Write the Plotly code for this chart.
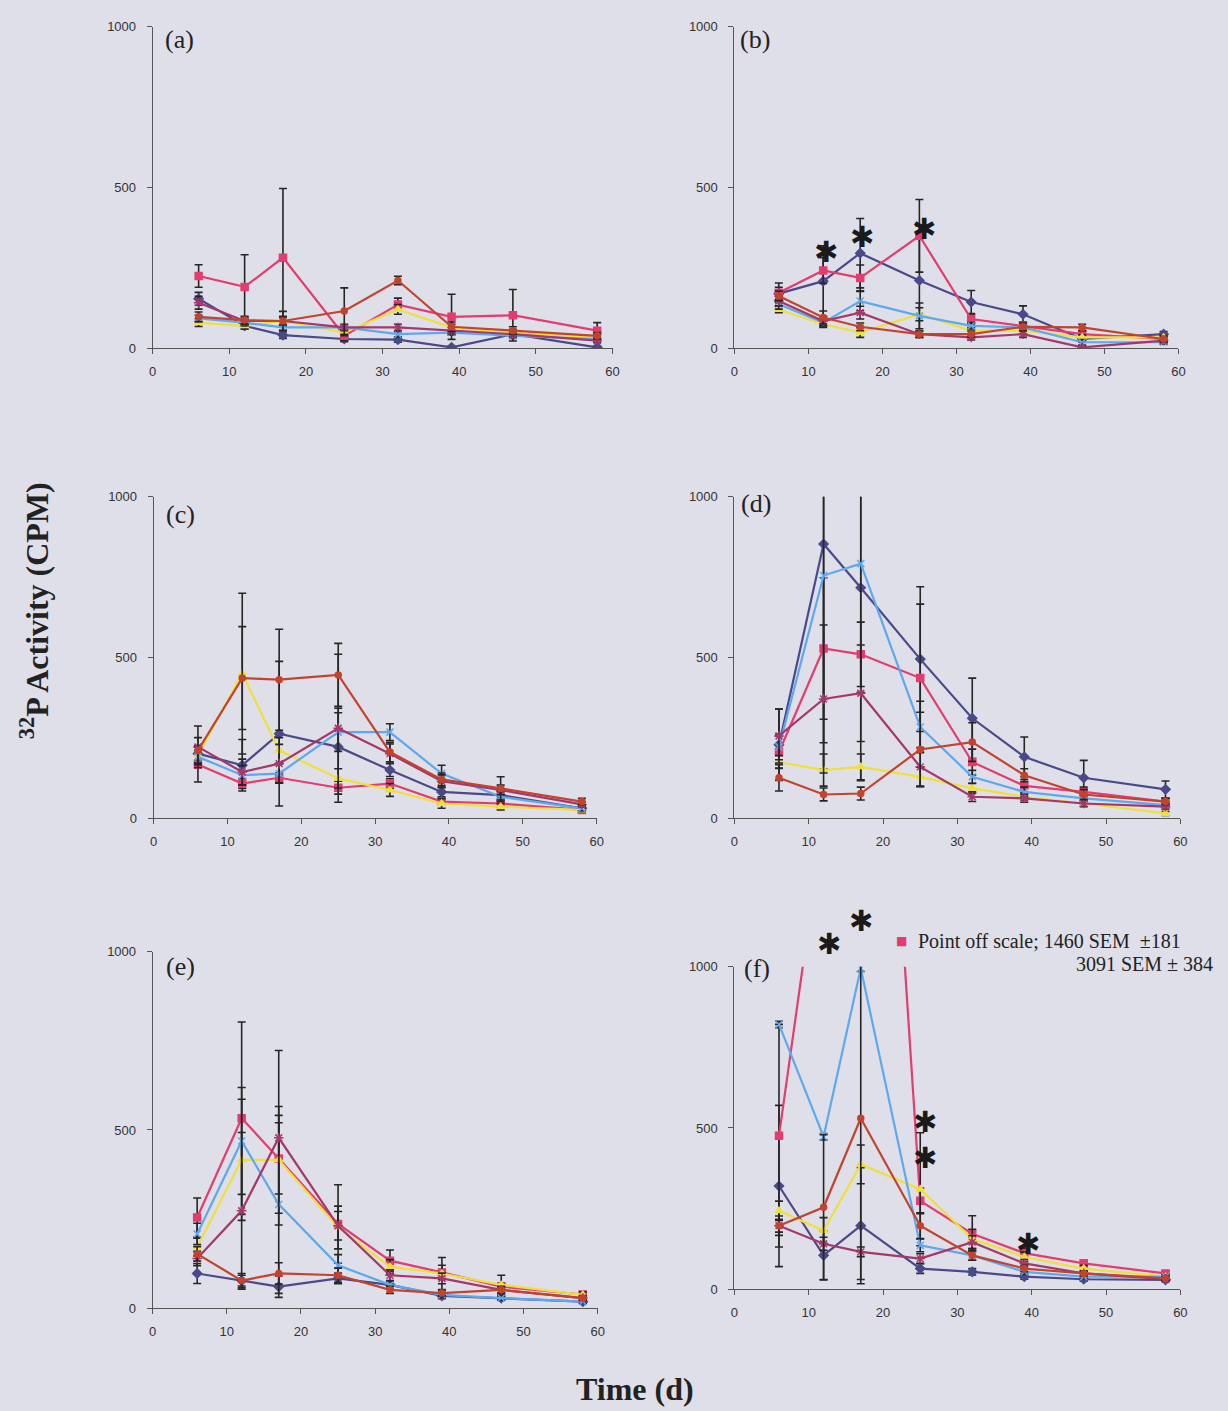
import plotly.graph_objects as go

# ---------------- data ----------------
days = [6, 12, 17, 25, 32, 39, 47, 58]
x_ticks = [0, 10, 20, 30, 40, 50, 60]
y_ticks = [0, 500, 1000]
y_max = 1000
panel_labels = ["(a)", "(b)", "(c)", "(d)", "(e)", "(f)"]
series_names = ["Series 1", "Series 2", "Series 3", "Series 4", "Series 5", "Series 6"]

# panel (a)
a_navy = [154, 70, 41, 29, 27, 3, 44, 3]
a_navy_sem = [20, 10, 10, 8, 8, 5, 8, 5]
a_pink = [225, 191, 282, 39, 136, 98, 103, 55]
a_pink_sem = [35, 100, 215, 15, 20, 70, 80, 25]
a_yellow = [80, 70, 85, 49, 121, 65, 49, 34]
a_yellow_sem = [12, 10, 15, 10, 15, 10, 10, 8]
a_blue = [93, 80, 65, 65, 44, 49, 39, 29]
a_blue_sem = [10, 10, 8, 8, 8, 8, 8, 6]
a_mauve = [142, 85, 85, 65, 65, 55, 44, 24]
a_mauve_sem = [20, 12, 12, 10, 10, 10, 8, 6]
a_brown = [98, 88, 85, 116, 211, 67, 55, 39]
a_brown_sem = [15, 12, 30, 72, 13, 15, 12, 10]

# panel (b)
b_navy = [170, 209, 296, 211, 144, 106, 29, 44]
b_navy_sem = [20, 110, 108, 170, 36, 26, 10, 8]
b_pink = [173, 242, 219, 350, 91, 70, 44, 29]
b_pink_sem = [30, 40, 40, 113, 15, 12, 10, 8]
b_yellow = [121, 75, 49, 106, 55, 55, 34, 34]
b_yellow_sem = [10, 10, 15, 20, 10, 10, 8, 6]
b_blue = [137, 80, 147, 101, 70, 65, 19, 19]
b_blue_sem = [15, 10, 30, 40, 10, 10, 8, 6]
b_mauve = [147, 85, 111, 44, 34, 44, 3, 24]
b_mauve_sem = [15, 15, 20, 10, 8, 10, 5, 6]
b_brown = [163, 96, 67, 44, 44, 67, 65, 29]
b_brown_sem = [15, 20, 12, 10, 10, 12, 10, 8]

# panel (c)
c_navy = [201, 165, 263, 222, 150, 82, 72, 31]
c_navy_sem = [20, 80, 225, 120, 20, 15, 12, 8]
c_pink = [167, 108, 126, 95, 108, 52, 46, 26]
c_pink_sem = [54, 15, 15, 20, 15, 10, 8, 6]
c_yellow = [196, 450, 211, 124, 88, 46, 36, 26]
c_yellow_sem = [30, 250, 40, 30, 20, 15, 10, 6]
c_blue = [191, 134, 139, 268, 268, 139, 67, 31]
c_blue_sem = [20, 30, 30, 60, 26, 26, 15, 8]
c_mauve = [222, 144, 170, 280, 201, 115, 88, 43]
c_mauve_sem = [65, 40, 60, 230, 30, 20, 15, 8]
c_brown = [211, 436, 431, 446, 206, 121, 93, 52]
c_brown_sem = [40, 160, 157, 98, 30, 20, 36, 10]

# panel (d)
d_navy = [229, 853, 717, 495, 311, 191, 126, 90]
d_navy_sem = [111, 700, 600, 225, 125, 62, 54, 26]
d_pink = [206, 528, 510, 436, 175, 101, 82, 52]
d_pink_sem = [50, 220, 100, 230, 40, 20, 15, 10]
d_yellow = [175, 150, 160, 129, 93, 67, 46, 15]
d_yellow_sem = [20, 50, 40, 30, 15, 10, 8, 6]
d_blue = [222, 755, 792, 284, 129, 82, 62, 41]
d_blue_sem = [40, 520, 400, 80, 20, 15, 10, 8]
d_mauve = [256, 371, 389, 160, 67, 62, 46, 36]
d_mauve_sem = [84, 230, 150, 60, 15, 12, 10, 8]
d_brown = [126, 74, 77, 214, 237, 134, 74, 52]
d_brown_sem = [41, 20, 20, 116, 60, 20, 15, 10]

# panel (e)
e_navy = [97, 77, 60, 83, 65, 34, 28, 18]
e_navy_sem = [28, 15, 30, 15, 10, 8, 6, 5]
e_pink = [254, 533, 420, 236, 133, 100, 60, 38]
e_pink_sem = [55, 270, 100, 110, 30, 20, 10, 8]
e_yellow = [171, 416, 416, 226, 116, 97, 65, 37]
e_yellow_sem = [25, 170, 150, 60, 20, 45, 27, 8]
e_blue = [208, 469, 291, 120, 65, 37, 28, 18]
e_blue_sem = [30, 150, 250, 30, 10, 8, 6, 5]
e_mauve = [139, 273, 478, 231, 92, 83, 51, 28]
e_mauve_sem = [20, 220, 245, 40, 15, 15, 10, 6]
e_brown = [152, 77, 97, 92, 51, 42, 51, 28]
e_brown_sem = [20, 20, 30, 20, 10, 8, 8, 6]

# panel (f)  (pink at day 12 and 17 is off scale: 1460 and 3091)
f_navy = [320, 105, 197, 64, 54, 39, 31, 29]
f_navy_sem = [250, 75, 180, 15, 10, 8, 6, 6]
f_pink = [476, 1460, 3091, 274, 172, 112, 80, 49]
f_pink_sem = [345, 181, 384, 40, 56, 15, 10, 8]
f_yellow = [243, 182, 387, 310, 156, 100, 64, 39]
f_yellow_sem = [30, 40, 60, 175, 30, 15, 10, 8]
f_blue = [821, 473, 995, 136, 105, 54, 39, 39]
f_blue_sem = [10, 10, 10, 20, 15, 8, 6, 6]
f_mauve = [197, 141, 116, 95, 146, 80, 49, 31]
f_mauve_sem = [20, 20, 15, 15, 20, 12, 8, 6]
f_brown = [197, 254, 530, 197, 105, 64, 49, 34]
f_brown_sem = [30, 225, 500, 40, 15, 10, 8, 6]

# significance asterisks (panel, day, y)
star_panel = [2, 2, 2, 6, 6, 6, 6, 6]
star_x = [12.4, 17.3, 25.6, 12.7, 17.1, 25.6, 25.6, 39.5]
star_y = [300, 347, 370, 1070, 1141, 520, 408, 141]

note_line1 = "Point off scale; 1460 SEM  ±181"
note_line2 = "3091 SEM ± 384"

# ---------------- style ----------------
W, H = 1228, 1411
BG = "#dfdfe9"
colors = ["#4a4a8a", "#e23d6e", "#efe03a", "#5ea8ee", "#a3386a", "#c2432e"]
symbols = ["diamond", "square", "triangle-up", "x-thin-open", "asterisk-open", "circle"]
msizes = [7, 7, 7, 7, 8, 6]

panels = [
    [(a_navy, a_navy_sem), (a_pink, a_pink_sem), (a_yellow, a_yellow_sem),
     (a_blue, a_blue_sem), (a_mauve, a_mauve_sem), (a_brown, a_brown_sem)],
    [(b_navy, b_navy_sem), (b_pink, b_pink_sem), (b_yellow, b_yellow_sem),
     (b_blue, b_blue_sem), (b_mauve, b_mauve_sem), (b_brown, b_brown_sem)],
    [(c_navy, c_navy_sem), (c_pink, c_pink_sem), (c_yellow, c_yellow_sem),
     (c_blue, c_blue_sem), (c_mauve, c_mauve_sem), (c_brown, c_brown_sem)],
    [(d_navy, d_navy_sem), (d_pink, d_pink_sem), (d_yellow, d_yellow_sem),
     (d_blue, d_blue_sem), (d_mauve, d_mauve_sem), (d_brown, d_brown_sem)],
    [(e_navy, e_navy_sem), (e_pink, e_pink_sem), (e_yellow, e_yellow_sem),
     (e_blue, e_blue_sem), (e_mauve, e_mauve_sem), (e_brown, e_brown_sem)],
    [(f_navy, f_navy_sem), (f_pink, f_pink_sem), (f_yellow, f_yellow_sem),
     (f_blue, f_blue_sem), (f_mauve, f_mauve_sem), (f_brown, f_brown_sem)],
]

# plot-area boxes in pixels: (left, right, top, bottom)
boxes = [
    (150, 614, 20, 345),
    (737, 1185, 20, 345),
    (151, 598, 495, 820),
    (737, 1187, 495, 820),
    (150, 599, 955, 1315),
    (737, 1187, 970, 1296),
]
label_pos = [(160, 33), (741, 33), (161, 513), (742, 502), (161, 970), (745, 972)]

fig = go.Figure()
layout = dict(
    width=W, height=H,
    margin=dict(l=0, r=0, t=0, b=0),
    paper_bgcolor=BG, plot_bgcolor=BG,
    showlegend=False,
    font=dict(family="Liberation Sans, Arial", size=12, color="#333"),
)

tickfont = dict(family="Liberation Sans Narrow, Arial Narrow, Liberation Sans", size=13, color="#333")

for i, (box, series) in enumerate(zip(boxes, panels)):
    n = i + 1
    xa = "x" if n == 1 else f"x{n}"
    ya = "y" if n == 1 else f"y{n}"
    l, r, t, b = box
    layout["xaxis" if n == 1 else f"xaxis{n}"] = dict(
        domain=[l / W, r / W], anchor=ya, range=[0, 60],
        tickvals=x_ticks, ticks="outside", ticklen=5, tickcolor="#555",
        ticklabelstandoff=6,
        showline=True, linecolor="#555", linewidth=1,
        showgrid=False, zeroline=False, tickfont=tickfont,
    )
    layout["yaxis" if n == 1 else f"yaxis{n}"] = dict(
        domain=[1 - b / H, 1 - t / H], anchor=xa, range=[0, y_max],
        tickvals=y_ticks, ticks="outside", ticklen=5, tickcolor="#555",
        ticklabelstandoff=8,
        showline=True, linecolor="#555", linewidth=1,
        showgrid=False, zeroline=False, tickfont=tickfont,
    )
    for k, (vals, sem) in enumerate(series):
        fig.add_trace(go.Scatter(
            x=days, y=vals, xaxis=xa, yaxis=ya, name=series_names[k],
            mode="lines+markers",
            line=dict(color=colors[k], width=2.2),
            marker=dict(symbol=symbols[k], size=msizes[k], color=colors[k],
                        line=dict(color=colors[k], width=1.5)),
            error_y=dict(type="data", array=sem, visible=True,
                         color="#262626", thickness=1.6, width=4),
        ))

annotations = []
for i, (lx, ly) in enumerate(label_pos):
    annotations.append(dict(
        x=lx / W, y=1 - ly / H, xref="paper", yref="paper",
        text=panel_labels[i], showarrow=False, xanchor="left", yanchor="middle",
        font=dict(family="Liberation Serif, Times New Roman", size=26, color="#222"),
    ))

# asterisks: x in data units, y relative to the axis domain (so that marks
# above the plotted range, as in the reference, are still drawn)
for p, sx, sy in zip(star_panel, star_x, star_y):
    xr = "x" if p == 1 else f"x{p}"
    yr = "y domain" if p == 1 else f"y{p} domain"
    annotations.append(dict(
        x=sx, y=sy / y_max, xref=xr, yref=yr, text="✱", showarrow=False,
        xanchor="center", yanchor="middle",
        font=dict(family="DejaVu Sans", size=29, color="#1a1a1a"),
    ))

# axis titles
annotations.append(dict(
    x=30 / W, y=1 - 610 / H, xref="paper", yref="paper",
    text="<b><sup>32</sup>P Activity (CPM)</b>", showarrow=False, textangle=-90,
    xanchor="center", yanchor="middle",
    font=dict(family="Liberation Serif, Times New Roman", size=32, color="#222"),
))
annotations.append(dict(
    x=637 / W, y=1 - 1397 / H, xref="paper", yref="paper",
    text="<b>Time (d)</b>", showarrow=False, xanchor="center", yanchor="middle",
    font=dict(family="Liberation Serif, Times New Roman", size=32, color="#222"),
))

# off-scale note in panel (f)
annotations.append(dict(
    x=906 / W, y=1 - 944 / H, xref="paper", yref="paper", text="■", showarrow=False,
    xanchor="center", yanchor="middle",
    font=dict(family="DejaVu Sans", size=12, color=colors[1]),
))
annotations.append(dict(
    x=920 / W, y=1 - 944 / H, xref="paper", yref="paper", text=note_line1, showarrow=False,
    xanchor="left", yanchor="middle",
    font=dict(family="Liberation Serif, Times New Roman", size=20, color="#222"),
))
annotations.append(dict(
    x=1222 / W, y=1 - 967 / H, xref="paper", yref="paper", text=note_line2, showarrow=False,
    xanchor="right", yanchor="middle",
    font=dict(family="Liberation Serif, Times New Roman", size=20, color="#222"),
))

layout["annotations"] = annotations
fig.update_layout(**layout)
fig.write_html(
    "out.html",
    config={"displayModeBar": False},
    post_script="document.body.style.margin='0px';document.body.style.background='" + BG + "';",
)
